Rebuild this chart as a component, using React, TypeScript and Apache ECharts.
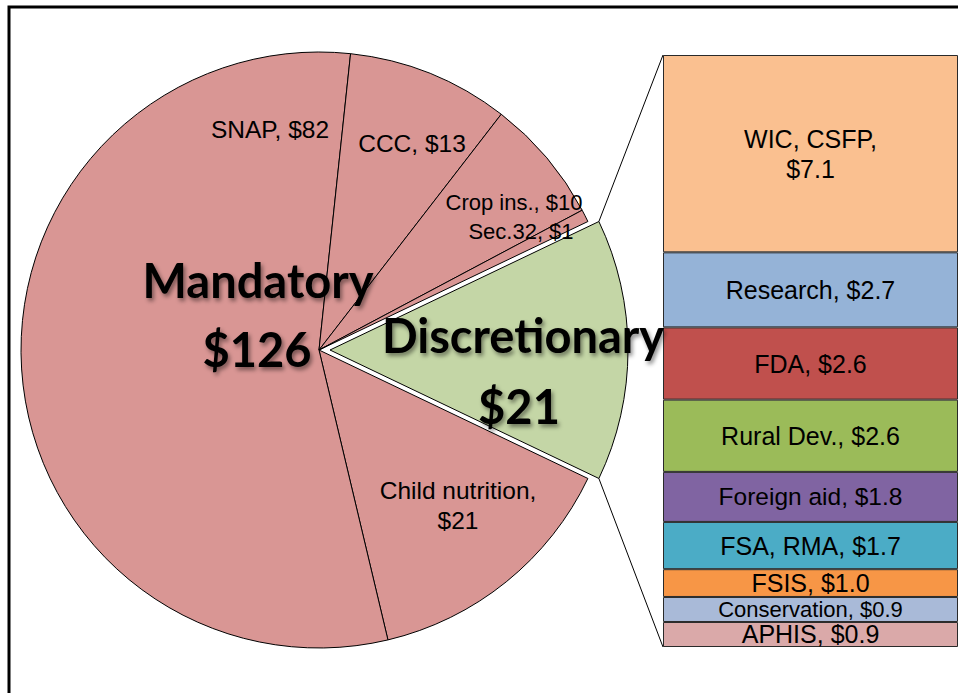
import React, { useEffect, useRef } from 'react';
import * as echarts from 'echarts';

// ---- data ----
const pieCategories = ['Discretionary', 'Child nutrition', 'SNAP', 'CCC', 'Crop ins.', 'Sec.32'];
const pieValues = [21, 21, 82, 13, 10, 1];
const pieColors = ['#C4D6A6', '#D99694', '#D99694', '#D99694', '#D99694', '#D99694'];
const mandatoryLabel = 'Mandatory';
const mandatoryTotal = 126;
const discretionaryLabel = 'Discretionary';
const discretionaryTotal = 21;

const barCategories = ['WIC, CSFP', 'Research', 'FDA', 'Rural Dev.', 'Foreign aid', 'FSA, RMA', 'FSIS', 'Conservation', 'APHIS'];
const barValues = [7.1, 2.7, 2.6, 2.6, 1.8, 1.7, 1.0, 0.9, 0.9];
const barColors = ['#FAC090', '#95B3D7', '#C0504D', '#9BBB59', '#8064A2', '#4BACC6', '#F79646', '#A9BAD8', '#DAA9A9'];
const barFontSizes = [25, 25, 25, 25, 24.5, 25, 25, 22, 25];
const twoLineBars = ['WIC, CSFP'];

// ---- layout (positions only) ----
const PIE_CX = 319;
const PIE_CY = 350;
const PIE_R = 298;
const EXPLODE = 11;
const GRID_LEFT = 663;
const GRID_TOP = 55;
const GRID_W = 299;
const GRID_H = 592;
const pieLabelPos: { idx: number; x: number; y: number; size: number; twoLine?: boolean }[] = [
  { idx: 2, x: 270, y: 129, size: 24.5 },
  { idx: 3, x: 412, y: 143, size: 24.5 },
  { idx: 4, x: 514, y: 202, size: 22 },
  { idx: 5, x: 521, y: 231, size: 22 },
  { idx: 1, x: 458, y: 505, size: 24.5, twoLine: true },
];

const FONT = '"Liberation Sans", Arial, sans-serif';
const BOLD_FONT = 'Lato, "Open Sans", sans-serif';

export default function App() {
  const ref = useRef<HTMLDivElement>(null);
  useEffect(() => {
    if (!ref.current) return;
    const chart = echarts.init(ref.current, undefined, { renderer: 'svg' });
    const total = pieValues.reduce((a, b) => a + b, 0);
    const startAngle = (pieValues[0] / total) * 180;
    const barSum = barValues.reduce((a, b) => a + b, 0);

    const apexX = PIE_CX + EXPLODE;
    const a = (startAngle * Math.PI) / 180;
    const topPt = [apexX + PIE_R * Math.cos(a), PIE_CY - PIE_R * Math.sin(a)];
    const botPt = [apexX + PIE_R * Math.cos(a), PIE_CY + PIE_R * Math.sin(a)];

    const shadow = {
      textShadowColor: 'rgba(0,0,0,0.45)',
      textShadowBlur: 4,
      textShadowOffsetX: 2,
      textShadowOffsetY: 3,
    };

    const graphics: any[] = [
      {
        type: 'rect',
        shape: { x: 9, y: 7, width: 1400, height: 1400 },
        style: { fill: 'none', stroke: '#000', lineWidth: 3 },
        silent: true,
        z: 100,
      },
      {
        type: 'line',
        shape: { x1: topPt[0], y1: topPt[1], x2: GRID_LEFT, y2: GRID_TOP },
        style: { stroke: '#000', lineWidth: 1 },
        z: 50,
      },
      {
        type: 'line',
        shape: { x1: botPt[0], y1: botPt[1], x2: GRID_LEFT, y2: GRID_TOP + GRID_H },
        style: { stroke: '#000', lineWidth: 1 },
        z: 50,
      },
    ];
    pieLabelPos.forEach((p) => {
      const name = pieCategories[p.idx];
      const v = pieValues[p.idx];
      const text = p.twoLine ? `${name},\n$${v}` : `${name}, $${v}`;
      graphics.push({
        type: 'text',
        x: p.x,
        y: p.y,
        z: 60,
        style: {
          text,
          fill: '#000',
          font: `${p.size}px ${FONT}`,
          align: 'center',
          verticalAlign: 'middle',
          lineHeight: 30,
        },
      });
    });
    const bigLabels = [
      { text: mandatoryLabel, x: 258, y: 280 },
      { text: `$${mandatoryTotal}`, x: 257, y: 349 },
      { text: discretionaryLabel, x: 523, y: 335 },
      { text: `$${discretionaryTotal}`, x: 519, y: 406 },
    ];
    bigLabels.forEach((b) => {
      graphics.push({
        type: 'text',
        x: b.x,
        y: b.y,
        z: 70,
        style: {
          text: b.text,
          fill: '#000',
          font: `bold 47px ${BOLD_FONT}`,
          align: 'center',
          verticalAlign: 'middle',
          ...shadow,
        },
      });
    });

    const barSeries: any[] = [];
    for (let i = barValues.length - 1; i >= 0; i--) {
      const name = barCategories[i];
      barSeries.push({
        type: 'bar',
        name,
        stack: 'disc',
        barWidth: '100%',
        data: [barValues[i]],
        itemStyle: { color: barColors[i], borderColor: '#2a2a2a', borderWidth: 1 },
        label: {
          show: true,
          position: 'inside',
          color: '#000',
          fontFamily: FONT,
          fontSize: barFontSizes[i],
          lineHeight: 30,
          formatter: () =>
            twoLineBars.includes(name)
              ? `${name},\n$${barValues[i].toFixed(1)}`
              : `${name}, $${barValues[i].toFixed(1)}`,
        },
        emphasis: { disabled: true },
        silent: true,
      });
    }

    chart.setOption({
      animation: false,
      backgroundColor: '#fff',
      grid: { left: GRID_LEFT, top: GRID_TOP, width: GRID_W, height: GRID_H, containLabel: false },
      xAxis: { type: 'category', data: ['d'], show: false },
      yAxis: { type: 'value', min: 0, max: barSum, show: false },
      series: [
        {
          type: 'pie',
          center: [PIE_CX, PIE_CY],
          radius: PIE_R,
          startAngle,
          clockwise: true,
          selectedMode: 'single',
          selectedOffset: EXPLODE,
          label: { show: false },
          labelLine: { show: false },
          emphasis: { disabled: true },
          silent: true,
          itemStyle: { borderColor: '#000', borderWidth: 1 },
          data: pieCategories.map((n, i) => ({
            name: n,
            value: pieValues[i],
            selected: i === 0,
            itemStyle: { color: pieColors[i] },
          })),
        },
        ...barSeries,
      ],
      graphic: graphics,
    });
    return () => chart.dispose();
  }, []);
  return (
    <div
      ref={ref}
      style={{ position: 'fixed', left: 0, top: 0, width: 958, height: 693, background: '#fff' }}
    />
  );
}
